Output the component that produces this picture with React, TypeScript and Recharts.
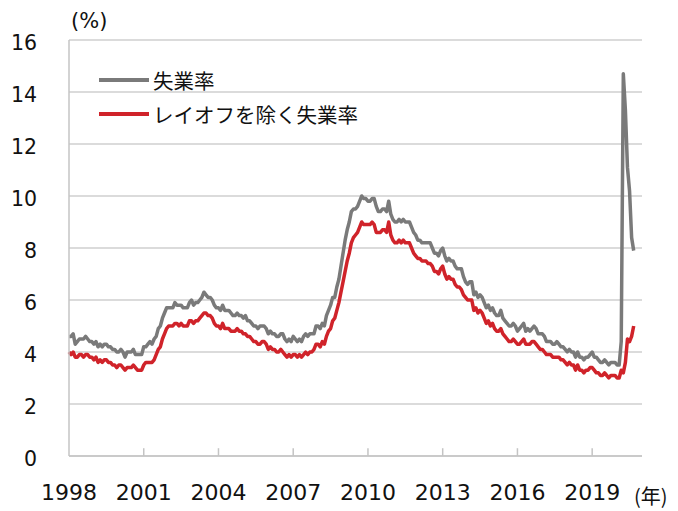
import { LineChart, Line, XAxis, YAxis, CartesianGrid, Legend, ReferenceLine } from "recharts"

const startYear = 1998
const tickYears = [1998, 2001, 2004, 2007, 2010, 2013, 2016, 2019]
const yTicks = [0, 2, 4, 6, 8, 10, 12, 14, 16]

const nameRate = "失業率"
const nameEx = "レイオフを除く失業率"

// 失業率 (monthly, 1998/1 - 2020/9)
const rate = [
  4.6, 4.6, 4.7, 4.3, 4.4, 4.5, 4.5, 4.5, 4.6, 4.5, 4.4, 4.4,
  4.3, 4.4, 4.2, 4.3, 4.2, 4.3, 4.3, 4.2, 4.2, 4.1, 4.1, 4.0,
  4.0, 4.1, 4.0, 3.8, 4.0, 4.0, 4.0, 4.1, 3.9, 3.9, 3.9, 3.9,
  4.2, 4.2, 4.3, 4.4, 4.3, 4.5, 4.6, 4.9, 5.0, 5.3, 5.5, 5.7,
  5.7, 5.7, 5.7, 5.9, 5.8, 5.8, 5.8, 5.7, 5.7, 5.7, 5.9, 6.0,
  5.8, 5.9, 5.9, 6.0, 6.1, 6.3, 6.2, 6.1, 6.1, 6.0, 5.8, 5.7,
  5.7, 5.6, 5.8, 5.6, 5.6, 5.6, 5.5, 5.4, 5.4, 5.5, 5.4, 5.4,
  5.3, 5.4, 5.2, 5.2, 5.1, 5.0, 5.0, 4.9, 5.0, 5.0, 5.0, 4.9,
  4.7, 4.8, 4.7, 4.7, 4.6, 4.6, 4.7, 4.7, 4.5, 4.4, 4.5, 4.4,
  4.6, 4.5, 4.4, 4.5, 4.4, 4.6, 4.7, 4.6, 4.7, 4.7, 4.7, 5.0,
  5.0, 4.9, 5.1, 5.0, 5.4, 5.6, 5.8, 6.1, 6.1, 6.5, 6.8, 7.3,
  7.8, 8.3, 8.7, 9.0, 9.4, 9.5, 9.5, 9.6, 9.8, 10.0, 9.9, 9.9,
  9.8, 9.8, 9.9, 9.9, 9.6, 9.4, 9.4, 9.5, 9.5, 9.4, 9.8, 9.3,
  9.1, 9.0, 9.0, 9.1, 9.0, 9.1, 9.0, 9.0, 9.0, 8.8, 8.6, 8.5,
  8.3, 8.3, 8.2, 8.2, 8.2, 8.2, 8.2, 8.0, 7.8, 7.8, 7.7, 7.9,
  8.0, 7.7, 7.5, 7.6, 7.5, 7.5, 7.3, 7.2, 7.2, 7.2, 6.9, 6.7,
  6.6, 6.7, 6.7, 6.2, 6.3, 6.1, 6.2, 6.1, 5.9, 5.7, 5.8, 5.6,
  5.7, 5.5, 5.4, 5.4, 5.6, 5.3, 5.2, 5.1, 5.0, 5.0, 5.1, 5.0,
  4.8, 4.9, 5.0, 5.1, 4.8, 4.9, 4.8, 4.9, 5.0, 4.9, 4.7, 4.7,
  4.7, 4.6, 4.4, 4.4, 4.4, 4.3, 4.3, 4.4, 4.3, 4.2, 4.2, 4.1,
  4.0, 4.1, 4.0, 4.0, 3.8, 4.0, 3.8, 3.8, 3.7, 3.8, 3.8, 3.9,
  4.0, 3.8, 3.8, 3.7, 3.6, 3.6, 3.7, 3.6, 3.5, 3.6, 3.6, 3.6,
  3.5, 3.5, 4.4, 14.7, 13.3, 11.1, 10.2, 8.4, 7.9,
]

// レイオフを除く失業率
const exLayoff = [
  4.0, 3.9, 4.0, 3.8, 3.8, 3.9, 3.9, 3.8, 3.9, 3.9, 3.8, 3.8,
  3.7, 3.8, 3.6, 3.7, 3.6, 3.7, 3.7, 3.6, 3.6, 3.5, 3.5, 3.4,
  3.5, 3.5, 3.4, 3.3, 3.4, 3.4, 3.4, 3.5, 3.4, 3.3, 3.3, 3.3,
  3.5, 3.6, 3.6, 3.6, 3.6, 3.7, 3.9, 4.1, 4.2, 4.5, 4.7, 4.9,
  5.0, 5.0, 5.0, 5.1, 5.1, 5.0, 5.1, 5.0, 5.0, 5.0, 5.2, 5.2,
  5.1, 5.2, 5.2, 5.3, 5.4, 5.5, 5.5, 5.4, 5.4, 5.3, 5.1, 5.0,
  5.0, 4.9, 5.1, 4.9, 4.9, 4.9, 4.8, 4.8, 4.8, 4.9, 4.8, 4.8,
  4.7, 4.7, 4.6, 4.6, 4.5, 4.4, 4.4, 4.3, 4.3, 4.4, 4.4, 4.3,
  4.1, 4.2, 4.1, 4.1, 4.0, 4.0, 4.1, 4.0, 3.9, 3.8, 3.9, 3.8,
  3.9, 3.9, 3.8, 3.9, 3.8, 3.9, 4.0, 3.9, 4.0, 4.0, 4.1, 4.3,
  4.3, 4.2, 4.4, 4.3, 4.6, 4.8, 4.9, 5.2, 5.3, 5.6, 5.9, 6.3,
  6.7, 7.1, 7.5, 7.8, 8.2, 8.4, 8.5, 8.6, 8.8, 9.0, 8.9, 8.9,
  8.9, 8.9, 9.0, 8.9, 8.6, 8.6, 8.6, 8.7, 8.7, 8.6, 9.0, 8.5,
  8.3, 8.2, 8.2, 8.3, 8.2, 8.3, 8.2, 8.2, 8.2, 8.0, 7.8, 7.7,
  7.6, 7.6, 7.5, 7.5, 7.5, 7.4, 7.4, 7.3, 7.1, 7.1, 7.0, 7.2,
  7.3, 7.0, 6.8, 6.9, 6.8, 6.8, 6.6, 6.5, 6.5, 6.4, 6.2, 6.1,
  6.0, 6.0, 6.0, 5.6, 5.7, 5.5, 5.6, 5.5, 5.3, 5.1, 5.2, 5.0,
  5.1, 4.9, 4.8, 4.8, 4.9, 4.7, 4.6, 4.5, 4.4, 4.4, 4.5, 4.4,
  4.3, 4.3, 4.4, 4.5, 4.3, 4.3, 4.3, 4.4, 4.4, 4.3, 4.2, 4.1,
  4.1, 4.0, 3.9, 3.9, 3.9, 3.8, 3.8, 3.8, 3.8, 3.7, 3.7, 3.6,
  3.5, 3.6, 3.5, 3.5, 3.3, 3.5, 3.3, 3.3, 3.2, 3.3, 3.3, 3.4,
  3.4, 3.3, 3.2, 3.2, 3.1, 3.1, 3.2, 3.1, 3.0, 3.1, 3.1, 3.1,
  3.0, 3.0, 3.3, 3.2, 3.6, 4.5, 4.4, 4.6, 5.0,
]

const data = rate.map((v, i) => ({ i, rate: v, ex: exLayoff[i] }))
const xTicks = tickYears.map((y) => (y - startYear) * 12)

const numFont = "'DejaVu Sans', Verdana, sans-serif"
const jpFont = "'Noto Sans CJK JP', sans-serif"

function YTick({ x, y, payload }: any) {
  return (
    <text x={x - 32} y={y + 10} textAnchor="end" fontSize={20.5} fontFamily={numFont} fill="#111">
      {payload.value}
    </text>
  )
}

function XTick({ x, y, payload }: any) {
  return (
    <text x={x} y={y + 44} textAnchor="middle" fontSize={22} fontFamily={numFont} fill="#111">
      {startYear + payload.value / 12}
    </text>
  )
}

function LegendBox({ payload }: any) {
  const order = [nameRate, nameEx]
  const items = [...(payload || [])].sort((a, b) => order.indexOf(a.value) - order.indexOf(b.value))
  return (
    <div>
      {items.map((p: any) => (
        <div key={p.value} style={{ display: "flex", alignItems: "center", height: 34 }}>
          <svg width={52} height={10} style={{ marginRight: 3 }}>
            <line x1={1} y1={5} x2={51} y2={5} stroke={p.color} strokeWidth={4} />
          </svg>
          <span style={{ fontFamily: jpFont, fontSize: 20.5, color: "#111", lineHeight: "21px" }}>{p.value}</span>
        </div>
      ))}
    </div>
  )
}

export default function App() {
  return (
    <div style={{ position: "absolute", left: 0, top: 0, width: 678, height: 511, background: "#fff" }}>
      <LineChart width={678} height={511} data={data} margin={{ top: 40, right: 36, left: 9, bottom: 0 }}>
        <CartesianGrid vertical={false} stroke="#cfcfcf" strokeWidth={1.5} />
        <XAxis
          dataKey="i"
          type="number"
          domain={[0, 276]}
          ticks={xTicks}
          interval={0}
          height={55}
          tickSize={0}
          tickMargin={0}
          tickLine={false}
          axisLine={{ stroke: "#c4c4c4", strokeWidth: 1.5 }}
          tick={<XTick />}
        />
        <YAxis
          domain={[0, 16]}
          ticks={yTicks}
          interval={0}
          width={60}
          tickSize={0}
          tickMargin={0}
          tickLine={false}
          axisLine={{ stroke: "#c4c4c4", strokeWidth: 1.5 }}
          tick={<YTick />}
        />
        {xTicks.slice(1).map((t) => (
          <ReferenceLine key={t} segment={[{ x: t, y: 0 }, { x: t, y: 0.3 }]} stroke="#c4c4c4" strokeWidth={1.5} />
        ))}
        <Line
          type="linear"
          dataKey="rate"
          name={nameRate}
          stroke="#7a7a7a"
          strokeWidth={3.5}
          strokeLinejoin="round"
          dot={false}
          isAnimationActive={false}
        />
        <Line
          type="linear"
          dataKey="ex"
          name={nameEx}
          stroke="#d0232a"
          strokeWidth={3.5}
          strokeLinejoin="round"
          dot={false}
          isAnimationActive={false}
        />
        <Legend
          layout="vertical"
          align="center"
          verticalAlign="middle"
          content={<LegendBox />}
          wrapperStyle={{ left: 98, top: 63, width: 300, height: 70 }}
        />
      </LineChart>
      <div style={{ position: "absolute", left: 71, top: 9, fontFamily: numFont, fontSize: 21, color: "#111" }}>(%)</div>
      <div
        style={{
          position: "absolute",
          left: 634,
          top: 481,
          fontFamily: jpFont,
          fontSize: 20,
          color: "#111",
          whiteSpace: "nowrap",
        }}
      >
        (年)
      </div>
    </div>
  )
}
